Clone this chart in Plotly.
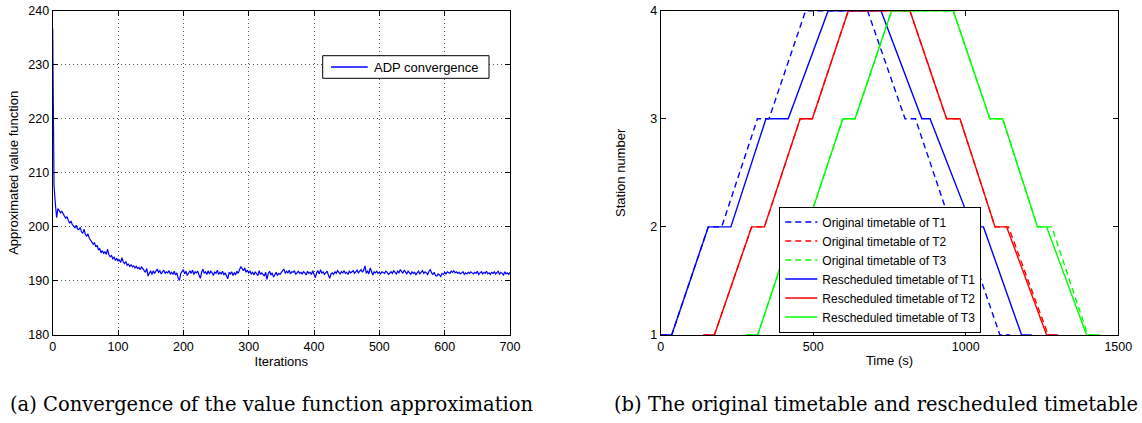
import plotly.graph_objects as go

# ---------------- Left chart data (ADP convergence) ----------------
iterations = list(range(0, 701, 2))
value_fn = [
    236.7, 207.6, 204.4, 201.7, 203.4, 203.1, 202.6, 202.9, 202.3, 202.0,
    201.6, 201.9, 201.2, 200.7, 201.1, 200.4, 200.2, 199.8, 200.3, 199.6,
    199.5, 199.9, 199.1, 198.8, 199.6, 198.6, 198.3, 198.7, 197.9, 197.6,
    197.3, 196.8, 197.1, 196.3, 196.6, 195.8, 196.0, 195.2, 195.6, 195.1,
    195.4, 194.9, 195.9, 194.8, 194.5, 194.7, 194.1, 194.4, 193.8, 194.2,
    193.7, 193.9, 193.4, 194.3, 193.5, 193.2, 193.6, 192.9, 193.1, 192.7,
    193.0, 192.6, 192.8, 192.4, 192.7, 192.3, 192.5, 192.1, 192.6, 192.2,
    192.0, 191.6, 192.3, 190.9, 191.5, 191.8, 191.2, 191.9, 191.4, 191.7,
    192.2, 191.6, 191.9, 191.3, 191.8, 192.0, 191.4, 191.7, 191.5, 191.9,
    191.3, 191.6, 191.2, 191.8, 191.1, 191.5, 190.6, 190.1, 191.4, 191.7,
    192.1, 191.3, 191.8, 191.0, 191.6, 191.9, 191.4, 192.0, 191.2, 191.7,
    191.5, 191.8, 191.1, 190.5, 191.6, 192.2, 191.4, 191.7, 191.2, 191.9,
    191.3, 191.8, 191.5, 191.0, 191.7, 191.4, 192.0, 191.2, 191.6, 191.3,
    191.8, 191.1, 191.5, 190.8, 190.4, 191.6, 191.3, 191.7, 191.0, 191.5,
    191.2, 191.8, 191.4, 192.1, 192.6, 192.3, 191.9, 192.4, 191.6, 192.0,
    191.5, 191.8, 191.3, 191.6, 191.1, 191.7, 191.4, 191.0, 191.9, 191.2,
    191.5, 191.2, 190.9, 191.6, 190.3, 191.4, 191.8, 191.1, 191.5, 190.7,
    191.3, 191.6, 191.0, 191.4, 191.2, 191.7, 191.9, 192.2, 191.4, 191.8,
    191.5, 192.0, 191.3, 191.7, 191.6, 191.9, 191.2, 191.5, 191.8, 191.4,
    191.6, 191.3, 191.7, 191.5, 191.1, 191.8, 191.4, 191.6, 191.2, 191.9,
    191.0, 190.6, 191.5, 191.9, 191.3, 192.1, 191.4, 191.7, 191.2, 191.6,
    191.8, 191.1, 190.5, 191.3, 191.5, 191.2, 191.7, 191.4, 191.9, 191.6,
    191.3, 191.7, 191.5, 191.9, 191.4, 191.6, 191.2, 191.8, 191.5, 191.7,
    191.9, 191.4, 191.7, 192.0, 191.5, 191.8, 192.1, 191.6, 192.0, 192.8,
    191.4, 191.9, 191.3, 192.4, 191.6, 191.1, 191.7, 191.5, 191.8, 191.4,
    191.6, 191.3, 191.7, 191.5, 191.4, 191.8, 191.6, 191.2, 191.5, 191.7,
    191.4, 191.9, 191.6, 191.3, 191.8, 191.5, 192.1, 191.7, 191.4, 192.0,
    191.6, 191.3, 191.8, 191.5, 191.2, 191.7, 191.4, 191.6, 191.1, 191.5,
    191.8, 191.3, 191.6, 191.9, 191.4, 191.7, 191.5, 191.2, 191.8, 192.1,
    191.5, 191.2, 191.6, 191.0, 190.9, 191.3, 191.1, 190.8, 191.4, 191.2,
    191.6, 191.3, 191.7, 191.5, 191.4, 191.8, 191.6, 191.9, 191.5, 191.7,
    191.4, 191.6, 191.3, 191.5, 191.7, 191.2, 191.5, 191.3, 191.6, 191.4,
    191.7, 191.5, 191.3, 191.6, 191.4, 191.8, 191.2, 191.5, 191.7, 191.3,
    191.6, 191.4, 191.8, 191.3, 191.5, 191.2, 191.6, 191.4, 191.7, 191.3,
    191.5, 191.8, 191.2, 191.6, 191.4, 191.1, 191.7, 191.3, 191.5, 191.2,
    191.6,
]
adp_label = "ADP convergence"

# ---------------- Right chart data (timetables) ----------------
stations = [1, 1, 2, 2, 3, 3, 4, 4, 3, 3, 2, 2, 1, 1]
orig_T1 = [0, 36, 156, 200, 317, 355, 475, 678, 801, 835, 954, 990, 1112, 1145]
orig_T2 = [140, 176, 298, 340, 457, 497, 615, 817, 937, 981, 1096, 1140, 1270, 1303]
orig_T3 = [279, 318, 436, 479, 597, 637, 757, 959, 1079, 1121, 1235, 1282, 1400, 1438]
resc_T1 = [0, 36, 156, 230, 345, 418, 549, 722, 856, 883, 1021, 1058, 1183, 1216]
resc_T2 = [140, 176, 298, 340, 457, 497, 615, 817, 937, 981, 1096, 1134, 1265, 1303]
resc_T3 = [279, 318, 436, 479, 597, 637, 757, 959, 1079, 1121, 1235, 1265, 1396, 1438]

BLUE, RED, GREEN = "#0000FF", "#FF0000", "#00FF00"
FONT = "Liberation Sans"
W, H = 1142, 423

def px_x(p):
    return p / W

def px_y(p):
    return (H - p) / H

fig = go.Figure()

series = [
    ("Original timetable of T1", orig_T1, BLUE, "6px,4px"),
    ("Original timetable of T2", orig_T2, RED, "6px,4px"),
    ("Original timetable of T3", orig_T3, GREEN, "6px,4px"),
    ("Rescheduled timetable of T1", resc_T1, BLUE, "solid"),
    ("Rescheduled timetable of T2", resc_T2, RED, "solid"),
    ("Rescheduled timetable of T3", resc_T3, GREEN, "solid"),
]
for name, times, color, dash in series:
    fig.add_trace(go.Scatter(
        x=times, y=stations, mode="lines", name=name,
        line=dict(color=color, width=1.4, dash=dash),
        xaxis="x2", yaxis="y2", showlegend=True,
    ))

fig.add_trace(go.Scatter(
    x=iterations, y=value_fn, mode="lines", name=adp_label,
    line=dict(color=BLUE, width=1.2), xaxis="x", yaxis="y", showlegend=False,
))

axis_common = dict(
    showline=True, linecolor="black", linewidth=1, mirror="ticks",
    ticks="inside", ticklen=5, tickcolor="black", tickwidth=1,
    zeroline=False, automargin=False,
    tickfont=dict(family=FONT, size=12.5, color="black"),
)
grid = dict(showgrid=True, gridcolor="#555555", griddash="1px,3px", gridwidth=1)
nogrid = dict(showgrid=False)
title_font = dict(family=FONT, size=13, color="black")

ydom = [px_y(335), px_y(10.7)]

# key box for the left panel (single series)
key_shapes = [
    dict(type="rect", xref="paper", yref="paper", x0=px_x(322.7), x1=px_x(489), y0=px_y(78.3), y1=px_y(55.7),
         line=dict(color="black", width=1), fillcolor="white", layer="above"),
    dict(type="line", xref="paper", yref="paper", x0=px_x(331), x1=px_x(367.7), y0=px_y(67), y1=px_y(67),
         line=dict(color=BLUE, width=1.4), layer="above"),
]

fig.update_layout(
    width=W, height=H,
    margin=dict(l=0, r=0, t=0, b=0),
    paper_bgcolor="white", plot_bgcolor="white",
    showlegend=True,
    xaxis=dict(domain=[px_x(52.7), px_x(510)], range=[0, 700], tickvals=[0, 100, 200, 300, 400, 500, 600, 700],
               title=dict(text="Iterations", font=title_font, standoff=2),
               anchor="y", **axis_common, **grid),
    yaxis=dict(domain=ydom, range=[180, 240], tickvals=[180, 190, 200, 210, 220, 230, 240],
               title=dict(text="Approximated value function", font=title_font, standoff=6),
               anchor="x", **axis_common, **grid),
    xaxis2=dict(domain=[px_x(660.7), px_x(1118.3)], range=[0, 1500], tickvals=[0, 500, 1000, 1500],
                title=dict(text="Time (s)", font=title_font, standoff=2),
                anchor="y2", **axis_common, **nogrid),
    yaxis2=dict(domain=ydom, range=[1, 4], tickvals=[1, 2, 3, 4],
                title=dict(text="Station number", font=title_font, standoff=21),
                anchor="x2", **axis_common, **nogrid),
    legend=dict(x=px_x(779.3), y=px_y(206.5), xanchor="left", yanchor="top",
                bgcolor="white", bordercolor="black", borderwidth=1, itemwidth=32,
                font=dict(family=FONT, size=12, color="black")),
    shapes=key_shapes,
    annotations=[
        dict(text=adp_label, x=px_x(371.5), y=px_y(67), xref="paper", yref="paper",
             xanchor="left", yanchor="middle", showarrow=False,
             font=dict(family=FONT, size=13, color="black")),
        dict(text="(a) Convergence of the value function approximation", x=px_x(8), y=px_y(404),
             xref="paper", yref="paper", xanchor="left", yanchor="middle", showarrow=False,
             font=dict(family="DejaVu Serif", size=19.5, color="black")),
        dict(text="(b) The original timetable and rescheduled timetable", x=px_x(1140), y=px_y(404),
             xref="paper", yref="paper", xanchor="right", yanchor="middle", showarrow=False,
             font=dict(family="DejaVu Serif", size=19.5, color="black")),
    ],
)

fig.write_html("out.html", config={"displayModeBar": False},
               post_script="document.body.style.margin='0px';document.body.style.padding='0px';")
